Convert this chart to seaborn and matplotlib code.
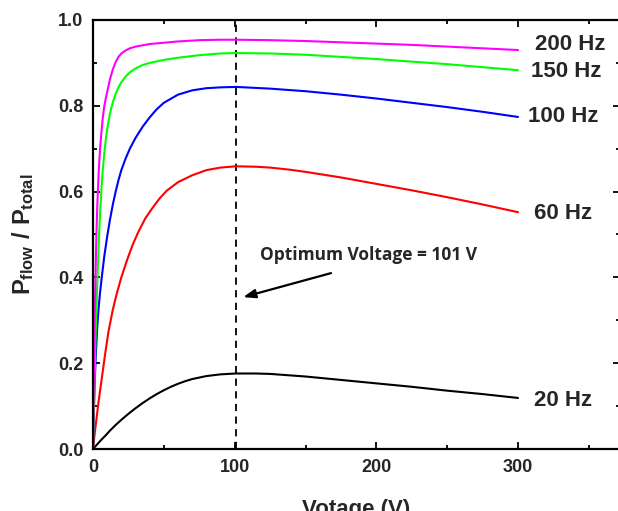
import numpy as np
import pandas as pd
import matplotlib
matplotlib.use("Agg")
import matplotlib.pyplot as plt
from matplotlib.ticker import MultipleLocator, FormatStrFormatter
import seaborn as sns

# Power-flow ratio versus applied voltage for each drive frequency
v_200 = [0, 0.5, 1, 1.5, 2, 2.5, 3, 4, 5, 6, 7, 8, 9, 10, 11, 12, 14, 16, 18, 20, 23, 26, 30, 35, 40, 50,
         60, 75, 90, 101, 125, 150, 175, 200, 225, 250, 275, 300]
p_200 = [0, 0.14, 0.26, 0.36, 0.44, 0.51, 0.565, 0.645, 0.70, 0.74, 0.775, 0.80, 0.817, 0.832, 0.847, 0.862,
         0.885, 0.902, 0.914, 0.922, 0.929, 0.934, 0.938, 0.941, 0.944, 0.947,
         0.950, 0.953, 0.954, 0.954, 0.953, 0.951, 0.948, 0.945, 0.942, 0.938, 0.934, 0.930]

v_150 = [0, 0.5, 1, 1.5, 2, 2.5, 3, 4, 5, 6, 7, 8, 9, 10, 11, 12, 13, 14, 16, 18, 20, 23, 26, 30, 35, 40,
         50, 60, 75, 90, 101, 125, 150, 175, 200, 225, 250, 275, 300]
p_150 = [0, 0.08, 0.15, 0.215, 0.28, 0.335, 0.385, 0.475, 0.55, 0.61, 0.655, 0.69, 0.72, 0.745, 0.765,
         0.782, 0.796, 0.808, 0.828, 0.843, 0.855, 0.868, 0.878, 0.887, 0.895, 0.900,
         0.907, 0.912, 0.918, 0.922, 0.923, 0.922, 0.919, 0.914, 0.909, 0.903, 0.897, 0.890, 0.883]

v_100 = [0, 0.5, 1, 1.5, 2, 3, 4, 5, 6, 8, 10, 12, 14, 16, 18, 20, 23, 26, 30, 35, 40, 45, 50, 60, 70, 80,
         90, 101, 125, 150, 175, 200, 225, 250, 275, 300]
p_100 = [0, 0.07, 0.13, 0.18, 0.22, 0.285, 0.33, 0.365, 0.395, 0.45, 0.495, 0.535, 0.57, 0.60, 0.627,
         0.65, 0.677, 0.70, 0.725, 0.751, 0.773, 0.792, 0.807, 0.826, 0.836, 0.841,
         0.843, 0.844, 0.840, 0.834, 0.826, 0.817, 0.807, 0.797, 0.786, 0.774]

v_60 = [0, 1, 2, 4, 6, 8.5, 11, 14, 17, 20, 24, 28, 32, 37, 42, 47, 52, 60, 70, 80, 90, 101, 115, 125,
        139, 150, 175, 200, 225, 250, 275, 300]
p_60 = [0, 0.03, 0.058, 0.112, 0.16, 0.22, 0.275, 0.325, 0.365, 0.40, 0.44, 0.476, 0.506, 0.538, 0.562,
        0.584, 0.602, 0.622, 0.638, 0.650, 0.656, 0.659, 0.658, 0.656, 0.651, 0.646, 0.633, 0.618,
        0.603, 0.587, 0.570, 0.552]

v_20 = [0, 3, 6, 9, 12, 16, 20, 25, 30, 35, 40, 45, 50, 55, 60, 65, 70, 80, 90, 101, 115, 125, 150, 175,
        200, 225, 250, 275, 300]
p_20 = [0, 0.011, 0.022, 0.032, 0.043, 0.056, 0.068, 0.082, 0.095, 0.107, 0.118, 0.128, 0.137, 0.145,
        0.152, 0.158, 0.163, 0.170, 0.174, 0.176, 0.176, 0.175, 0.169, 0.161, 0.153, 0.145, 0.136,
        0.128, 0.119]

freq_labels = ["20 Hz", "60 Hz", "100 Hz", "150 Hz", "200 Hz"]
label_y = [0.114, 0.548, 0.774, 0.879, 0.944]
label_x = [311, 311, 307, 309, 312]
colors = ["#000000", "#FF0000", "#0000FF", "#00FF00", "#FF00FF"]

optimum_v = 101

series = [(v_20, p_20), (v_60, p_60), (v_100, p_100), (v_150, p_150), (v_200, p_200)]
frames = []
for lab, (vv, pp) in zip(freq_labels, series):
    frames.append(pd.DataFrame({"V": vv, "ratio": pp, "freq": lab}))
df = pd.concat(frames, ignore_index=True)

sns.set_theme(style="ticks")
plt.rcParams["font.family"] = ["Liberation Sans", "DejaVu Sans"]
plt.rcParams["mathtext.fontset"] = "custom"
plt.rcParams["mathtext.rm"] = "Liberation Sans:bold"
plt.rcParams["mathtext.it"] = "Liberation Sans:bold"
plt.rcParams["mathtext.bf"] = "Liberation Sans:bold"

fig = plt.figure(figsize=(6.18, 5.11), dpi=100)
ax = fig.add_axes([93 / 618, 62 / 511, (620 - 93) / 618, (449 - 20) / 511])

sns.lineplot(data=df, x="V", y="ratio", hue="freq", hue_order=freq_labels,
             palette=dict(zip(freq_labels, colors)), estimator=None,
             sort=False, linewidth=1.5, legend=False, ax=ax)

ax.axvline(optimum_v, color="black", linestyle=(0, (4, 3)), linewidth=1.3, zorder=1)

for lab, xx, yy in zip(freq_labels, label_x, label_y):
    ax.text(xx, yy, lab, ha="left", va="center", fontsize=16, fontweight="bold")

ax.annotate("", xy=(106, 0.354), xytext=(168, 0.41),
            arrowprops=dict(arrowstyle="-|>,head_length=0.6,head_width=0.22",
                            color="black", lw=1.6, shrinkA=0, shrinkB=0))
ax.text(118, 0.452, f"Optimum Voltage = {optimum_v} V", ha="left", va="center",
        fontsize=12.5, fontweight="bold", family=["Open Sans", "DejaVu Sans"])

ax.set_xlim(0, 372)
ax.set_ylim(0, 1.0)
ax.xaxis.set_major_locator(MultipleLocator(100))
ax.xaxis.set_minor_locator(MultipleLocator(50))
ax.yaxis.set_major_locator(MultipleLocator(0.2))
ax.yaxis.set_minor_locator(MultipleLocator(0.1))
ax.yaxis.set_major_formatter(FormatStrFormatter("%.1f"))

for s in ax.spines.values():
    s.set_visible(True)
    s.set_linewidth(1.6)
    s.set_color("black")

ax.tick_params(which="both", direction="in", top=True, right=True, color="black", width=1.3)
ax.tick_params(which="major", length=5, labelsize=13, pad=7)
ax.tick_params(which="minor", length=3)
for t in ax.get_xticklabels() + ax.get_yticklabels():
    t.set_fontweight("bold")

ax.set_xlabel("Votage (V)", fontsize=16, fontweight="bold", labelpad=17)
ax.set_ylabel(r"$P_{flow}\ /\ P_{total}$", fontsize=17, labelpad=16)

fig.savefig("out.png", dpi=100)
